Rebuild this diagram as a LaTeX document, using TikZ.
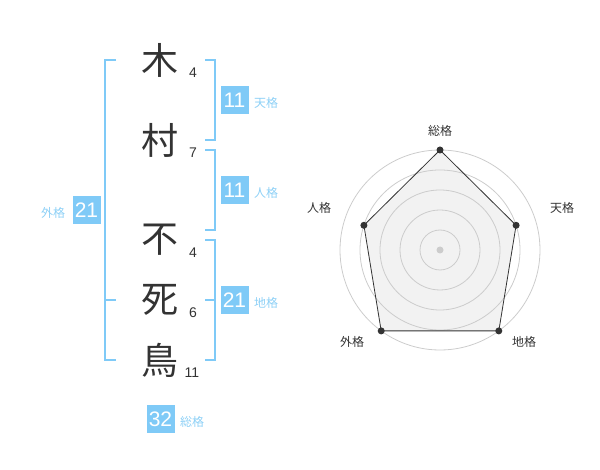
\documentclass[tikz,border=0pt]{standalone}
\usepackage{fontspec}
\setmainfont{Liberation Sans}
\newfontfamily\cjk{Noto Sans CJK JP}
\definecolor{kakublue}{HTML}{7FCAF7}
\definecolor{kakulabel}{HTML}{8DD0F6}
\definecolor{inkgray}{HTML}{333333}
\definecolor{ringgray}{HTML}{CCCCCC}
\definecolor{areagray}{HTML}{F2F2F2}
\begin{document}
\begin{tikzpicture}[x=1pt,y=-1pt,
    kanji/.style={inner sep=0pt,text=inkgray,font=\cjk\fontsize{37}{37}\selectfont},
    strokes/.style={inner sep=0pt,text=inkgray,font=\fontsize{14}{14}\selectfont},
    kakubox/.style={fill=kakublue,text=white,minimum size=28pt,inner sep=0pt,font=\fontsize{21}{21}\selectfont},
    kakuname/.style={inner sep=0pt,text=kakulabel,font=\cjk\fontsize{12}{12}\selectfont},
    bracket/.style={draw=kakublue,line width=2pt},
    ring/.style={draw=ringgray,line width=0.8pt},
    vertex/.style={circle,fill=inkgray,inner sep=0pt,minimum size=7pt},
    axisname/.style={inner sep=0pt,text=inkgray,font=\cjk\fontsize{12}{12}\selectfont}]
            \useasboundingbox (0, 0) rectangle (600, 470);
            \node (ki) at (160, 60)[kanji]{木};
            \node (mura) at (160, 140)[kanji]{村};
            \node (fu) at (160, 240)[kanji]{不};
            \node (shi) at (160, 300)[kanji]{死};
            \node (tori) at (160, 360)[kanji]{鳥};
            \node (kin) at (193, 73)[strokes]{4};
            \node (muran) at (193, 153)[strokes]{7};
            \node (fun) at (193, 253)[strokes]{4};
            \node (shin) at (193, 313)[strokes]{6};
            \node (torin) at (192, 373)[strokes]{11};
            \draw[bracket] (116, 60) -- (105, 60) -- (105, 360) -- (116, 360);
            \draw[bracket] (105, 300) -- (116, 300);
            \draw[bracket] (205, 60) -- (215, 60) -- (215, 140) -- (205, 140);
            \draw[bracket] (205, 150) -- (215, 150) -- (215, 230) -- (205, 230);
            \draw[bracket] (205, 240) -- (215, 240) -- (215, 360) -- (205, 360);
            \draw[bracket] (205, 300) -- (215, 300);
            \node (tenbox) at (234.5, 100)[kakubox]{11};
            \node (jinbox) at (234.5, 190)[kakubox]{11};
            \node (chibox) at (234.5, 300)[kakubox]{21};
            \node (gaibox) at (86.5, 210)[kakubox]{21};
            \node (sobox) at (160.5, 419)[kakubox]{32};
            \node (tenname) at (266, 103)[kakuname]{天格};
            \node (jinname) at (266, 193)[kakuname]{人格};
            \node (chiname) at (266, 303)[kakuname]{地格};
            \node (gainame) at (53, 213)[kakuname]{外格};
            \node (soname) at (192, 422)[kakuname]{総格};
            \coordinate (center) at (440, 250);
            \coordinate (so) at (440, 150);
            \coordinate (ten) at (516.1, 225.3);
            \coordinate (chi) at (498.8, 330.9);
            \coordinate (gai) at (381.2, 330.9);
            \coordinate (jin) at (363.9, 225.3);
            \fill[areagray] (so) -- (ten) -- (chi) -- (gai) -- (jin) -- cycle;
            \draw[ring] (center) circle (20);
            \draw[ring] (center) circle (40);
            \draw[ring] (center) circle (60);
            \draw[ring] (center) circle (80);
            \draw[ring] (center) circle (100);
            \draw[inkgray, line width=0.8pt] (so) -- (ten) -- (chi) -- (gai) -- (jin) -- cycle;
            \node (hub) at (center)[circle,fill=ringgray,inner sep=0pt,minimum size=7pt]{};
            \node (sodot) at (so)[vertex]{};
            \node (tendot) at (ten)[vertex]{};
            \node (chidot) at (chi)[vertex]{};
            \node (gaidot) at (gai)[vertex]{};
            \node (jindot) at (jin)[vertex]{};
            \node (soaxis) at (440, 131)[axisname]{総格};
            \node (tenaxis) at (562, 208)[axisname]{天格};
            \node (jinaxis) at (319, 208)[axisname]{人格};
            \node (gaiaxis) at (352, 342)[axisname]{外格};
            \node (chiaxis) at (524, 342)[axisname]{地格};
        \end{tikzpicture}
\end{document}
